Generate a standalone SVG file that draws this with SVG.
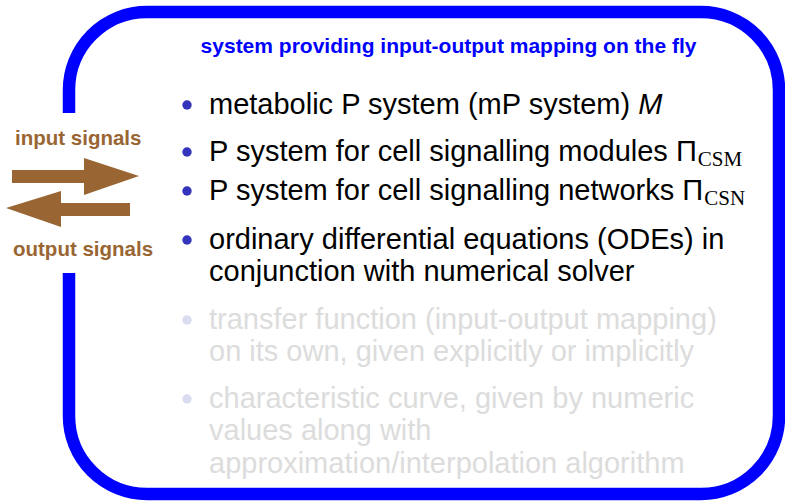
<svg xmlns="http://www.w3.org/2000/svg" width="785" height="502" viewBox="0 0 785 502">
<style>
.frame{fill:none;stroke:#0000ff;stroke-width:12.5}
.title{font-family:"Liberation Sans",Arial,sans-serif;font-weight:bold;font-size:21px;fill:#0000ff}
.sig{font-family:"Liberation Sans",Arial,sans-serif;font-weight:bold;font-size:20.5px;fill:#996633}
.arrow{fill:#996633}
.t{font-family:"Liberation Sans",Arial,sans-serif;font-size:29px;fill:#000}
.g{fill:#dcdcdc}
.sub{font-family:"Liberation Serif","Times New Roman",serif;font-size:21px}
.dot{fill:#3333bb}
.dotg{fill:#dcdcf0}
</style>
<rect width="785" height="502" fill="#fff"/>
<g id="frame">
<path class="frame" d="M69,113 V90 A78,78 0 0 1 147,12 H701 A78,78 0 0 1 779,90 V416 A78,78 0 0 1 701,494 H147 A78,78 0 0 1 69,416 V273"/>
<text class="title" x="448.5" y="53" text-anchor="middle">system providing input-output mapping on the fly</text>
</g>
<g id="signals">
<text class="sig" x="15" y="145">input signals</text>
<text class="sig" x="13" y="256">output signals</text>
</g>
<g id="connectors">
<polygon class="arrow" points="12,170 84,170 84,158 139,176 84,195 84,183 12,183"/>
<polygon class="arrow" points="6,208 61,191 61,203 130,203 130,216 61,216 61,227"/>
</g>
<g id="bullets">
<circle class="dot" cx="187" cy="105" r="4.7"/>
<text class="t" x="209" y="113.5">metabolic P system (mP system) <tspan font-style="italic">M</tspan></text>
<circle class="dot" cx="187" cy="152" r="4.7"/>
<text class="t" x="209" y="160.5">P system for cell signalling modules Π<tspan class="sub" dx="1" dy="5">CSM</tspan></text>
<circle class="dot" cx="187" cy="191" r="4.7"/>
<text class="t" x="209" y="199.5">P system for cell signalling networks Π<tspan class="sub" dx="1" dy="5">CSN</tspan></text>
<circle class="dot" cx="187" cy="240" r="4.7"/>
<text class="t" x="209" y="248.5">ordinary differential equations (ODEs) in</text>
<text class="t" x="209" y="280.5">conjunction with numerical solver</text>
<circle class="dotg" cx="187" cy="320" r="4.7"/>
<text class="t g" x="209" y="328.5">transfer function (input-output mapping)</text>
<text class="t g" x="209" y="360.5">on its own, given explicitly or implicitly</text>
<circle class="dotg" cx="187" cy="399" r="4.7"/>
<text class="t g" x="209" y="407.5">characteristic curve, given by numeric</text>
<text class="t g" x="209" y="440">values along with</text>
<text class="t g" x="209" y="472.5">approximation/interpolation algorithm</text>
</g>
</svg>
